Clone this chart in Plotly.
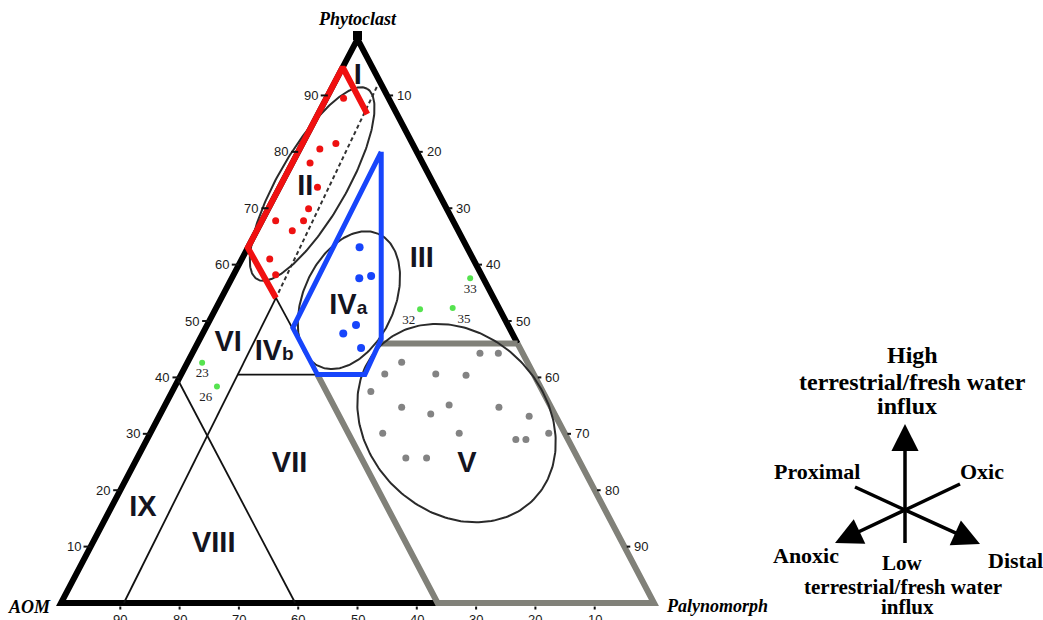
import numpy as np
import plotly.graph_objects as go

# sample compositions (%): Phytoclast, AOM, Palynomorph
red_phyto = [89.5, 80.5, 81.5, 78.0, 73.7, 69.9, 67.8, 67.8, 66.0, 61.0, 58.2]
red_aom = [7.6, 16.1, 12.9, 19.0, 19.9, 23.3, 29.9, 25.2, 28.0, 34.3, 34.7]
red_paly = [2.9, 3.4, 5.6, 3.0, 6.4, 6.8, 2.3, 7.0, 6.0, 4.7, 7.1]

blue_phyto = [63.1, 57.6, 58.0, 49.3, 47.8, 45.2]
blue_aom = [18.1, 20.9, 18.7, 25.6, 28.5, 26.8]
blue_paly = [18.8, 21.5, 23.3, 25.1, 23.7, 28.0]

green_ids = ['23', '26', '32', '33', '35']
green_phyto = [42.6, 38.4, 52.1, 57.6, 52.3]
green_aom = [54.9, 54.5, 13.4, 2.2, 7.8]
green_paly = [2.5, 7.1, 34.5, 40.2, 39.9]

grey_phyto = [44.3, 44.3, 42.7, 40.6, 40.6, 40.4, 37.5, 34.7, 33.5, 35.1,
              34.7, 33.1, 30.1, 30.1, 29.0, 29.0, 30.1, 25.7, 25.7]
grey_aom = [7.2, 4.1, 21.2, 25.1, 16.5, 11.5, 29.0, 25.2, 20.9, 17.0,
            8.8, 4.5, 30.7, 17.8, 8.8, 7.1, 2.7, 29.0, 25.5]
grey_paly = [48.5, 51.6, 36.1, 34.3, 42.9, 48.1, 33.5, 40.1, 45.6, 47.9,
             56.5, 62.4, 39.2, 52.1, 62.2, 63.9, 67.2, 45.3, 48.8]

# field boundaries, vertices as (Phytoclast, AOM, Palynomorph)
outline_black = [(0, 36.5, 63.5), (0, 100, 0), (100, 0, 0), (46, 0, 54)]
outline_grey = [(46, 0, 54), (0, 0, 100), (0, 36.5, 63.5), (40.5, 36.5, 23)]
grey_shelf = [(46, 23, 31), (46, 0, 54)]
ivb_right = [(40.5, 36.5, 23), (54.1, 36.7, 9.2)]
viii_left = [(0, 89.4, 10.6), (54.1, 36.7, 9.2)]
ivb_base = [(40.5, 50, 9.5), (40.5, 36.5, 23)]
vi_line = [(39.5, 60.5, 0), (0, 60.5, 39.5)]
dashed_line = [(91.5, 1, 7.5), (54.1, 36.7, 9.2)]
red_field = [(86.7, 5, 8.3), (95, 5, 0), (63, 37, 0), (54.1, 36.7, 9.2)]
blue_field = [(80, 6, 14), (46.8, 22.6, 30.6), (40.5, 28.5, 31),
              (40.5, 36.5, 23), (48.8, 36.5, 14.7), (80, 6, 14)]

# cluster ellipses: centre (Phyto, AOM, Paly), semi-axes, tilt in degrees
ellipse_centres = [(74.3, 20.5, 5.2), (53.7, 24.6, 21.7), (31.9, 17.35, 50.75)]
ellipse_axes = [(18.55, 5.73), (12.24, 7.71), (18.3, 15.0)]
ellipse_tilt = [60, 66, -45]

field_names = ['I', 'II', 'III', "IV<span style='font-size:19px'>a</span>",
               "IV<span style='font-size:19px'>b</span>", 'V', 'VI', 'VII', 'VIII', 'IX']
field_phyto = [93.3, 73.6, 60.9, 52.5, 44.3, 24.5, 46.0, 24.5, 10.3, 16.8]
field_aom = [3.3, 22.0, 8.7, 25.3, 41.9, 19.3, 48.8, 49.2, 69.1, 77.8]
field_paly = [3.4, 4.4, 30.4, 22.2, 13.8, 56.2, 5.2, 26.3, 20.6, 5.4]

tick_values = [10, 20, 30, 40, 50, 60, 70, 80, 90]

K = 0.951          # height / base of the drawn triangle
PX = 5.93          # pixels per unit
X0, Y0 = 61, 603   # pixel position of the AOM corner


def to_xy(phyto, aom, paly):
    phyto, aom, paly = (np.asarray(v, float) for v in (phyto, aom, paly))
    tot = phyto + aom + paly
    a, c = phyto / tot, paly / tot
    return 100 * (c + a / 2), 100 * K * a


def pts_xy(pts):
    arr = np.array(pts, float)
    return to_xy(arr[:, 0], arr[:, 1], arr[:, 2])


def pos(px, py):
    return (px - X0) / PX, (Y0 - py) / PX


fig = go.Figure()


def add_line(pts, color, width, dash=None):
    x, y = pts_xy(pts)
    fig.add_trace(go.Scatter(x=x, y=y, mode='lines', hoverinfo='skip',
                             line=dict(color=color, width=width, dash=dash)))


add_line(outline_black, 'black', 6)
add_line(outline_grey, '#818179', 6)
add_line(grey_shelf, '#818179', 6)
for seg in (ivb_right, viii_left, ivb_base, vi_line):
    add_line(seg, '#111111', 1.8)
add_line(dashed_line, '#333333', 2, '4px,3px')

# ellipses
t = np.linspace(0, 2 * np.pi, 240)
for centre, (sa, sb), tilt in zip(ellipse_centres, ellipse_axes, ellipse_tilt):
    cx, cy = pts_xy([centre])
    th = np.radians(tilt)
    ex = cx[0] + sa * np.cos(t) * np.cos(th) - sb * np.sin(t) * np.sin(th)
    ey = cy[0] + sa * np.cos(t) * np.sin(th) + sb * np.sin(t) * np.cos(th)
    fig.add_trace(go.Scatter(x=ex, y=ey, mode='lines', hoverinfo='skip',
                             line=dict(color='#2a2a2a', width=2)))

add_line(red_field, '#f01010', 6)
add_line(blue_field, '#1745fb', 5)

# apex cap
ax_, ay_ = to_xy([100], [0], [0])
fig.add_trace(go.Scatter(x=ax_, y=ay_ + 0.6, mode='markers', hoverinfo='skip',
                         marker=dict(symbol='square', size=9, color='black')))

# ticks
tick_font = dict(family='Liberation Sans, Arial', size=13, color='#1a1a1a')
tick_x, tick_y = [], []
for v in tick_values:
    lx, ly = (float(q) for q in to_xy(v, 100 - v, 0))
    tick_x += [lx, lx - 1.2, None]
    tick_y += [ly, ly, None]
    fig.add_annotation(x=lx - 1.2, y=ly, text=str(v), showarrow=False,
                       xanchor='right', xshift=-1, font=tick_font)
    rx, ry = (float(q) for q in to_xy(100 - v, 0, v))
    tick_x += [rx + 0.4, rx + 1.0, None]
    tick_y += [ry, ry, None]
    fig.add_annotation(x=rx, y=ry, text=str(v), showarrow=False,
                       xanchor='left', xshift=8, font=tick_font)
    bx, by = (float(q) for q in to_xy(0, v, 100 - v))
    tick_x += [bx, bx, None]
    tick_y += [by - 0.6, by - 1.1, None]
    fig.add_annotation(x=bx, y=by, text=str(v), showarrow=False,
                       yanchor='top', yshift=-7, font=tick_font)
fig.add_trace(go.Scatter(x=tick_x, y=tick_y, mode='lines', hoverinfo='skip',
                         line=dict(color='#111111', width=2)))

# samples
gx, gy = to_xy(grey_phyto, grey_aom, grey_paly)
fig.add_trace(go.Scatter(x=gx, y=gy, mode='markers',
                         marker=dict(color='#838383', size=7)))
rx, ry = to_xy(red_phyto, red_aom, red_paly)
fig.add_trace(go.Scatter(x=rx, y=ry, mode='markers',
                         marker=dict(color='#ee1111', size=7)))
bx, by = to_xy(blue_phyto, blue_aom, blue_paly)
fig.add_trace(go.Scatter(x=bx, y=by, mode='markers',
                         marker=dict(color='#1745fb', size=8)))
gnx, gny = to_xy(green_phyto, green_aom, green_paly)
fig.add_trace(go.Scatter(x=gnx, y=gny, mode='markers+text', text=green_ids,
                         textposition=['bottom center', 'bottom left', 'bottom left',
                                       'bottom center', 'bottom right'],
                         textfont=dict(family='Liberation Serif', size=13, color='#222222'),
                         marker=dict(color='#55e34f', size=6)))

# field labels
fx, fy = to_xy(field_phyto, field_aom, field_paly)
fig.add_trace(go.Scatter(x=fx, y=fy, mode='text', text=field_names, hoverinfo='skip',
                         textfont=dict(family='Liberation Sans, Arial', size=29,
                                       color='#14141f', weight='bold')))

# corner titles
serif = dict(family='Liberation Serif, Times New Roman', size=18, color='black')
apx, apy = (float(q) for q in to_xy(100, 0, 0))
fig.add_annotation(x=apx, y=apy, text='<b><i>Phytoclast</i></b>',
                   showarrow=False, yshift=20, font=serif)
lx, ly = (float(q) for q in to_xy(0, 100, 0))
fig.add_annotation(x=lx, y=ly, text='<b><i>AOM</i></b>',
                   showarrow=False, xanchor='right', xshift=-8, yshift=-4, font=serif)
px_, py_ = (float(q) for q in to_xy(0, 0, 100))
fig.add_annotation(x=px_, y=py_, text='<b><i>Palynomorph</i></b>',
                   showarrow=False, xanchor='left', xshift=10, yshift=-3, font=serif)

# environment key on the right
key_text = [('High', 912, 355, 24), ('terrestrial/fresh water', 912, 382, 24),
            ('influx', 907, 406, 24),
            ('Proximal', 817, 471, 22), ('Oxic', 982, 471, 22), ('Anoxic', 806, 555, 22),
            ('Low', 902, 563, 21), ('terrestrial/fresh water', 903, 587, 21),
            ('influx', 907, 607, 21), ('Distal', 1015, 560, 22)]
for txt, kx, ky, size in key_text:
    x, y = pos(kx, ky)
    fig.add_annotation(x=x, y=y, text=f'<b>{txt}</b>', showarrow=False, borderpad=0,
                       font=dict(family='Liberation Serif, Times New Roman',
                                 size=size, color='black'))

cx, cy = pos(905, 510)
for ex, ey in [(855, 487), (960, 484), (905, 543)]:
    x1, y1 = pos(ex, ey)
    fig.add_shape(type='line', x0=cx, y0=cy, x1=x1, y1=y1,
                  line=dict(color='black', width=3.5))
for tx, ty in [(905, 424), (835, 543), (980, 544)]:
    x, y = pos(tx, ty)
    fig.add_annotation(x=x, y=y, ax=905 - tx, ay=510 - ty, text='', showarrow=True,
                       arrowhead=2, arrowsize=1.55, arrowwidth=3.5, arrowcolor='black',
                       standoff=0, startstandoff=0)

fig.update_layout(
    width=1043, height=620,
    margin=dict(l=0, r=0, t=0, b=0),
    plot_bgcolor='white', paper_bgcolor='white',
    showlegend=False,
    xaxis=dict(visible=False, range=[-X0 / PX, (1043 - X0) / PX], fixedrange=True),
    yaxis=dict(visible=False, range=[-(620 - Y0) / PX, Y0 / PX], fixedrange=True),
)

fig.write_html("out.html", config={'displayModeBar': False},
               post_script="document.body.style.margin='0';")
